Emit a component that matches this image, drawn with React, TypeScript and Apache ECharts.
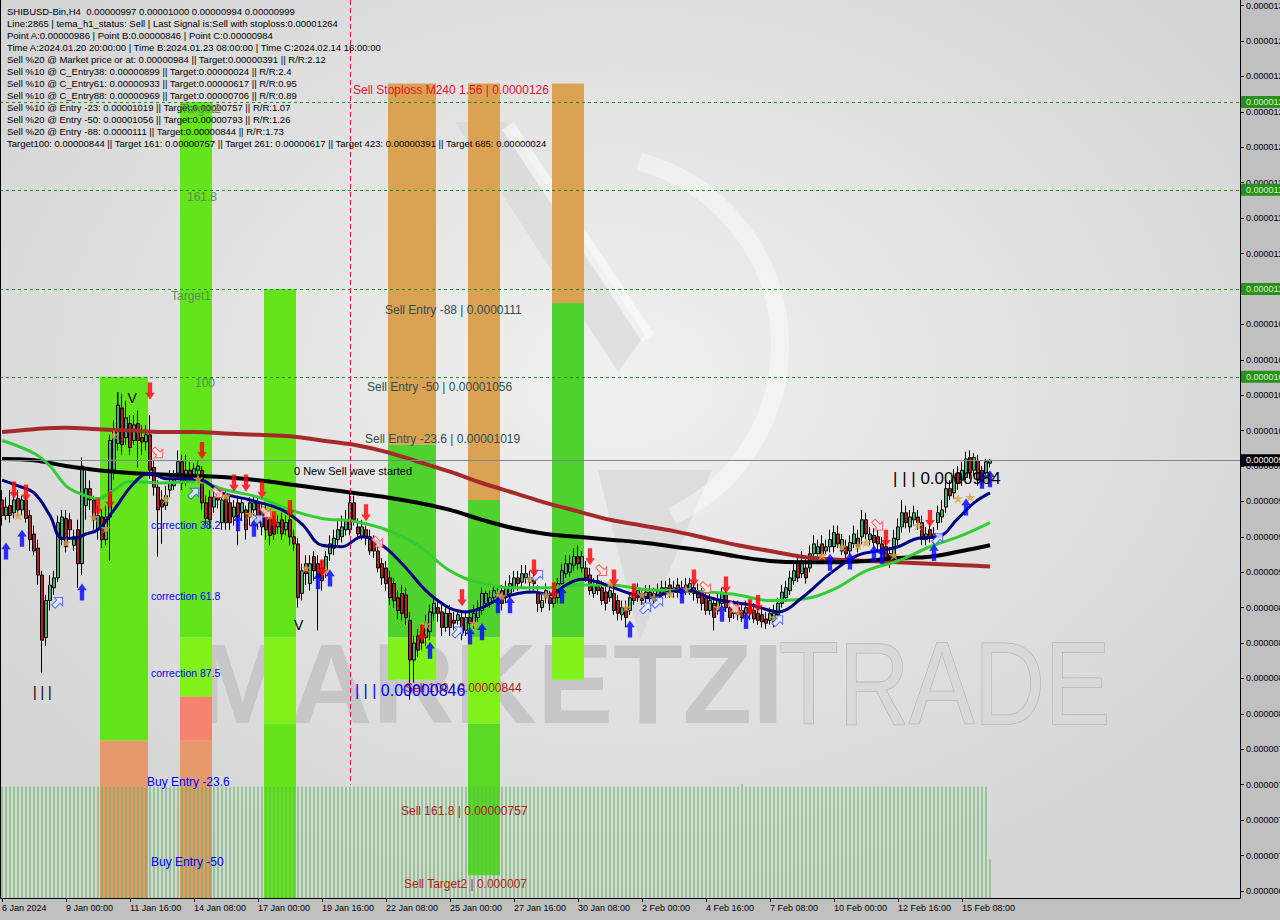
import React, { useEffect, useRef } from "react";
import * as echarts from "echarts";

// prices in units of 1e-8 (e.g. 999 => 0.00000999)
// candles: [open, close, low, high]
const CANDLES: number[][] = [
  [971,960,953,978],[960,966,957,973],[967,960,955,978],[962,971,958,976],[972,964,960,978],
  [964,971,960,974],[971,958,955,974],[960,943,935,964],[947,935,932,953],[937,918,911,943],
  [918,872,849,921],[874,900,868,904],[900,911,893,918],[909,916,904,921],[916,955,913,960],
  [943,959,939,964],[958,938,934,964],[957,950,943,962],[939,945,935,950],[950,926,909,957],
  [926,995,918,1001],[967,979,957,992],[979,971,964,985],[971,957,950,974],[950,960,943,967],
  [959,943,937,964],[943,959,939,967],[959,1013,928,1017],[992,1020,985,1027],[1011,1038,1006,1046],
  [1036,1010,1003,1046],[1015,1029,1010,1041],[1025,1008,1003,1031],[1013,1024,1010,1031],[1025,1013,994,1034],
  [1015,1012,1003,1024],[1012,1017,1006,1024],[1017,992,986,1031],[994,980,974,999],[980,964,931,985],
  [971,966,940,978],[967,974,964,981],[978,983,973,992],[981,986,978,992],[990,998,986,1006],
  [998,983,978,1003],[985,992,981,1003],[992,988,983,998],[986,993,983,997],[992,995,986,999],
  [992,969,964,995],[969,958,953,974],[973,957,951,978],[966,973,962,978],[976,971,965,981],
  [955,971,950,974],[973,955,950,978],[969,955,950,973],[959,966,953,971],[969,959,939,974],
  [962,969,957,973],[964,950,943,967],[959,969,953,973],[964,969,960,974],[969,955,950,974],
  [964,952,946,969],[962,950,943,967],[959,946,939,964],[957,947,943,960],[952,955,947,960],
  [957,947,943,962],[950,955,946,960],[957,945,939,962],[945,940,935,950],[940,902,895,944],
  [905,921,900,926],[926,919,911,932],[912,926,907,932],[931,921,914,935],[926,916,879,932],
  [923,914,907,928],[921,931,916,935],[933,940,928,946],[937,944,932,950],[943,950,939,957],
  [945,952,941,960],[950,957,946,964],[950,969,946,976],[969,957,953,974],[952,947,943,958],
  [945,952,943,957],[950,945,939,953],[945,935,932,950],[943,935,930,946],[935,923,920,939],
  [926,916,911,930],[923,912,907,928],[916,902,897,921],[912,900,895,916],[902,893,887,907],
  [905,891,886,911],[904,888,883,909],[886,858,830,892],[858,870,842,875],[875,865,860,880],
  [878,870,865,883],[874,884,868,890],[878,892,872,897],[891,898,886,904],[895,891,885,900],
  [892,881,875,897],[881,891,878,895],[891,881,875,897],[886,884,879,892],[886,890,883,894],
  [888,877,872,893],[879,888,875,893],[888,884,879,893],[884,891,880,897],[888,893,885,900],
  [893,905,890,909],[898,905,895,907],[898,902,895,907],[902,907,899,911],[905,900,897,909],
  [907,898,893,911],[902,909,898,914],[905,912,902,918],[909,916,906,921],[916,912,907,921],
  [913,919,909,925],[916,919,912,925],[913,916,907,921],[916,912,907,920],[905,898,892,911],
  [895,900,892,904],[907,902,898,912],[902,898,893,907],[898,902,895,907],[902,912,898,916],
  [912,921,909,926],[919,926,916,932],[920,926,917,932],[925,931,921,937],[931,926,922,939],
  [923,931,920,935],[923,916,913,928],[918,907,904,923],[905,911,902,916],[914,907,904,918],
  [909,900,897,914],[906,898,893,911],[902,907,899,911],[905,893,890,909],[900,891,886,904],
  [890,895,886,900],[895,888,881,900],[893,902,890,906],[900,905,897,909],[902,907,899,912],
  [905,900,897,909],[902,906,898,911],[906,902,899,911],[900,905,897,909],[902,907,899,912],
  [909,905,902,914],[905,909,902,914],[911,906,902,916],[906,909,902,914],[911,906,902,916],
  [905,909,902,914],[911,907,904,916],[907,912,904,916],[909,905,900,914],[907,902,898,912],
  [905,898,893,909],[902,893,890,907],[893,900,890,905],[898,888,879,902],[893,900,890,905],
  [898,905,895,909],[905,895,892,909],[895,888,885,900],[891,895,887,900],[895,890,886,900],
  [893,888,885,898],[891,895,887,900],[895,891,886,900],[893,887,884,898],[891,886,883,895],
  [890,885,881,895],[887,884,880,892],[886,891,883,895],[885,891,881,897],[890,898,886,902],
  [898,906,895,911],[902,909,899,914],[907,916,904,921],[914,921,911,928],[926,916,913,932],
  [919,928,916,935],[923,916,912,930],[923,933,920,939],[933,940,930,946],[933,938,930,943],
  [940,933,930,946],[935,938,932,943],[938,943,934,950],[938,948,934,953],[947,940,937,953],
  [935,943,932,947],[938,933,928,943],[935,941,932,946],[940,947,937,953],[944,938,934,950],
  [945,957,940,964],[957,947,943,962],[943,947,939,952],[946,941,937,951],[945,940,935,950],
  [940,933,930,945],[938,928,925,943],[933,926,923,938],[932,944,928,950],[943,952,939,958],
  [952,962,948,971],[962,955,951,967],[952,959,948,964],[957,962,953,967],[959,955,950,964],
  [955,943,939,960],[943,947,939,952],[950,945,941,955],[944,947,940,952],[955,962,950,967],
  [959,964,955,971],[966,979,962,985],[979,974,971,985],[976,987,972,993],[990,983,978,995],
  [985,992,981,998],[987,1000,985,1005],[1001,990,986,1006],[992,1001,988,1004],[999,985,981,1003],
  [992,985,981,995],[990,998,986,1000],[997,999,994,1000],
];

// moving averages: [barIndex, value]
const MA_RED: number[][] = [
  [0,1019],[8,1021],[16,1022],[24,1021],[32,1020],[40,1019],[48,1019],[56,1018],[64,1017],[72,1016],
  [80,1013],[88,1010],[96,1005],[104,998],[112,991],[120,983],[128,976],[136,969],[144,963],[152,957],
  [160,953],[168,949],[176,944],[184,939],[192,935],[200,931],[208,929],[216,928],[224,927],[232,926],
  [240,925],[247,924],
];
const MA_BLACK: number[][] = [
  [0,1000],[8,999],[16,995],[24,992],[32,990],[40,989],[48,988],[56,987],[64,985],[72,982],
  [80,979],[88,976],[96,973],[104,969],[112,964],[120,957],[128,951],[136,947],[144,945],[152,943],
  [160,941],[168,938],[176,935],[184,931],[192,928],[200,927],[208,927],[216,928],[224,930],[232,931],
  [240,935],[247,939],
];
const MA_GREEN: number[][] = [
  [0,1013],[8,1004],[12,995],[16,981],[20,975],[24,972],[28,978],[32,984],[40,983],[48,984],
  [56,978],[64,973],[72,964],[80,958],[88,956],[96,950],[104,939],[112,921],[120,912],[128,909],
  [136,909],[144,911],[152,911],[160,908],[168,907],[176,906],[184,904],[192,900],[200,901],[208,908],
  [216,921],[224,928],[232,938],[240,946],[247,955],
];
const MA_NAVY: number[][] = [
  [0,985],[4,981],[8,976],[12,960],[15,944],[18,944],[21,947],[24,950],[28,964],[33,983],
  [37,990],[41,986],[45,986],[50,985],[55,976],[62,971],[70,964],[75,954],[80,939],[85,938],
  [90,945],[95,939],[100,926],[108,902],[116,892],[120,895],[125,902],[133,906],[137,904],[141,911],
  [145,915],[149,913],[152,910],[157,905],[162,902],[167,906],[172,907],[177,902],[182,899],[187,897],
  [192,893],[194,892],[200,902],[207,919],[214,932],[219,935],[224,938],[229,944],[234,945],[239,958],
  [243,969],[247,976],
];

const RED_DOWN: number[][] = [[3,978],[6,976],[24,966],[27,971],[37,1048],[50,1006],[58,983],[61,983],[65,978],[68,957],[72,965],[80,923],[91,962],[105,877],[115,902],[133,923],[138,907],[147,931],[153,916],[158,906],[173,916],[181,911],[187,895],[189,898],[221,944],[232,958]];
const BLUE_UP: number[][] = [[1,935],[5,944],[20,906],[59,955],[63,951],[79,914],[82,916],[107,865],[117,875],[120,878],[124,897],[127,897],[140,904],[157,880],[170,904],[180,891],[186,886],[207,927],[212,928],[218,933],[220,932],[233,934],[241,966],[245,985],[247,986]];
const STARS: number[][] = [[4,960],[16,941],[23,959],[26,951],[28,1017],[41,972],[49,986],[56,974],[62,961],[67,960],[76,923],[81,921],[106,883],[118,884],[124,904],[125,903],[132,915],[136,904],[152,912],[156,895],[160,904],[163,902],[167,905],[171,908],[179,895],[184,892],[193,888],[205,932],[210,938],[214,939],[216,941],[223,932],[229,953],[239,972],[242,973],[246,986]];
const HOLLOW_RED: number[][] = [[39,1004],[54,976],[66,962],[94,941],[150,921],[176,909],[183,895],[219,953]];
const HOLLOW_BLUE: number[][] = [[14,899],[48,976],[64,957],[114,878],[134,918],[161,895],[164,899],[194,886],[234,944]];

// histogram runs: [count, value]
const HIST_RUNS: number[][] = [[185,12.4],[1,12.7],[61,12.4],[1,4.3]];

// coloured zones: [startBar, endBar, topPrice, bottomPrice, colourIndex]
const ZONE_COLORS = ["#63e41b", "#4fd22e", "#5ad925", "#80f21a", "#f5836f", "#e69a6b", "#dca254"];
const ZONES: number[][] = [
  [25,36,1058,801,0],[25,36,801,690,5],
  [45,52,1252,874,0],[45,52,874,832,3],[45,52,832,801,4],[45,52,801,690,5],
  [66,73,1120,874,0],[66,73,874,813,3],[66,73,813,690,0],
  [97,108,1265,1010,6],[97,108,1010,874,1],[97,108,874,844,3],
  [117,124,1265,971,6],[117,124,971,874,1],[117,124,874,813,3],[117,124,813,706,2],
  [138,145,1265,1110,6],[138,145,1110,874,1],[138,145,874,844,3],
];

const GREEN_LEVELS = [1252, 1190, 1120, 1058];
const BID = 999;
const TIME_A_BAR = 87;

const X_TICK_LABELS = ["6 Jan 2024","9 Jan 00:00","11 Jan 16:00","14 Jan 08:00","17 Jan 00:00","19 Jan 16:00","22 Jan 08:00","25 Jan 00:00","27 Jan 16:00","30 Jan 08:00","2 Feb 00:00","4 Feb 16:00","7 Feb 08:00","10 Feb 00:00","12 Feb 16:00","15 Feb 08:00"];
const Y_TICKS = [695,720,745,770,795,820,845,870,895,920,945,970,995,1020,1045,1070,1095,1120,1145,1170,1195,1220,1245,1270,1295,1320];
const SLOTS = 310;

const INFO_LINES = [
  "SHIBUSD-Bin,H4  0.00000997 0.00001000 0.00000994 0.00000999",
  "Line:2865 | tema_h1_status: Sell | Last Signal is:Sell with stoploss:0.00001264",
  "Point A:0.00000986 | Point B:0.00000846 | Point C:0.00000984",
  "Time A:2024.01.20 20:00:00 | Time B:2024.01.23 08:00:00 | Time C:2024.02.14 16:00:00",
  "Sell %20 @ Market price or at: 0.00000984 || Target:0.00000391 || R/R:2.12",
  "Sell %10 @ C_Entry38: 0.00000899 || Target:0.00000024 || R/R:2.4",
  "Sell %10 @ C_Entry61: 0.00000933 || Target:0.00000617 || R/R:0.95",
  "Sell %10 @ C_Entry88: 0.00000969 || Target:0.00000706 || R/R:0.89",
  "Sell %10 @ Entry -23: 0.00001019 || Target:0.00000757 || R/R:1.07",
  "Sell %20 @ Entry -50: 0.00001056 || Target:0.00000793 || R/R:1.26",
  "Sell %20 @ Entry -88: 0.0000111 || Target:0.00000844 || R/R:1.73",
  "Target100: 0.00000844 || Target 161: 0.00000757 || Target 261: 0.00000617 || Target 423: 0.00000391 || Target 685: 0.00000024",
];

// [text, x, y, colour, size]
const NOTES: (string | number)[][] = [
  ["Target2", 181, 109, "#5d8c52", 12],
  ["161.8", 187, 197, "#5d8c52", 12],
  ["Target1", 171, 296, "#5d8c52", 12],
  ["100", 195, 383, "#5d8c52", 12],
  ["correction 38.2", 151, 525, "#0000ff", 10.5],
  ["correction 61.8", 151, 596, "#0000ff", 10.5],
  ["correction 87.5", 151, 673, "#0000ff", 10.5],
  ["Buy Entry -23.6", 147, 782, "#0000ff", 12],
  ["Buy Entry -50", 151, 862, "#0000ff", 12],
  ["Sell Stoploss M240 1.56 | 0.0000126", 353, 90, "#e4122d", 12],
  ["Sell Entry -88 | 0.0000111", 385, 310, "#2f4f4f", 12],
  ["Sell Entry -50 | 0.00001056", 367, 387, "#2f4f4f", 12],
  ["Sell Entry -23.6 | 0.00001019", 365, 439, "#2f4f4f", 12],
  ["0 New Sell wave started", 294, 471, "#000000", 11],
  ["Sell 100 | 0.00000844", 405, 688, "#b22222", 12],
  ["Sell 161.8 | 0.00000757", 401, 811, "#b22222", 12],
  ["Sell Target2 | 0.000007", 404, 884, "#b22222", 12],
  ["| | | 0.00000846", 355, 690, "#0000ff", 16],
  ["| | | 0.0000984", 893, 478, "#000000", 17],
  ["| | |", 33, 692, "#000000", 14],
  ["|  V", 116, 398, "#000000", 14],
  ["V", 294, 625, "#000000", 14],
];

const FONT = '"Liberation Sans", Arial, sans-serif';
const DOWN_ARROW = "path://M3,0 L8,0 L8,9 L11,9 L5.5,15 L0,9 L3,9 Z";
const UP_ARROW = "path://M3,15 L8,15 L8,6 L11,6 L5.5,0 L0,6 L3,6 Z";
const STAR = "path://M5,0 L6.2,3.6 L10,3.6 L6.9,5.8 L8.1,9.5 L5,7.2 L1.9,9.5 L3.1,5.8 L0,3.6 L3.8,3.6 Z";
const RIGHT_ARROW = "path://M0,3 L6,3 L6,0 L11,5 L6,10 L6,7 L0,7 Z";

function buildOption(tagGraphics: any[]) {
  const categories = Array.from({ length: SLOTS }, (_, i) => String(i));
  const hist: number[][] = [];
  let idx = 0;
  HIST_RUNS.forEach(([n, v]) => {
    for (let k = 0; k < n; k++) hist.push([idx++, v]);
  });
  const tickShown = (i: number) => i % 16 === 0 && i / 16 < X_TICK_LABELS.length;

  const txt = (t: string, x: number, y: number, fill: string, size: number, extra: any = {}) => ({
    type: "text", x, y, z: 100, silent: true,
    style: { text: t, fill, fontSize: size, fontFamily: FONT, align: "left", verticalAlign: "middle", textAlign: "left", textVerticalAlign: "middle", ...extra },
  });

  const graphics: any[] = [
    {
      type: "rect", z: -100, silent: true, shape: { x: 0, y: 0, width: 1240, height: 898 },
      style: { fill: new echarts.graphic.RadialGradient(0.5, 0.42, 0.62, [{ offset: 0, color: "#f1f1f1" }, { offset: 1, color: "#d5d5d5" }]) },
    },
    { type: "polygon", z: -60, silent: true, shape: { points: [[455, 122], [505, 122], [645, 335], [618, 372]] }, style: { fill: "#d2d2d2", opacity: 0.5 } },
    { type: "polyline", z: -59, silent: true, shape: { points: [[508, 126], [648, 338]] }, style: { stroke: "#ffffff", lineWidth: 14, opacity: 0.55 } },
    { type: "arc", z: -59, silent: true, shape: { cx: 590, cy: 345, r: 190, startAngle: -Math.PI / 2.4, endAngle: Math.PI / 2.8 }, style: { stroke: "#ffffff", lineWidth: 18, fill: "none", opacity: 0.42 } },
    { type: "polygon", z: -60, silent: true, shape: { points: [[598, 470], [712, 470], [640, 640]] }, style: { fill: "#cfcfcf", opacity: 0.5 } },
    { type: "text", z: -50, silent: true, x: 195, y: 683, style: { text: "MARKETZI", fontSize: 114, fontWeight: "bold", fontFamily: FONT, fill: "#c6c6c6", verticalAlign: "middle", textVerticalAlign: "middle" } },
    { type: "text", z: -50, silent: true, x: 779, y: 683, scaleX: 0.835, style: { text: "TRADE", fontSize: 117, fontFamily: FONT, fill: "#d9d9d9", stroke: "#b3b3b3", lineWidth: 1.5, verticalAlign: "middle", textVerticalAlign: "middle" } },
    { type: "line", z: 50, silent: true, shape: { x1: 0.5, y1: 0, x2: 0.5, y2: 898 }, style: { stroke: "#000", lineWidth: 1 } },
    ...INFO_LINES.map((l, k) => txt(l, 7, 11 + 12 * k, "#000000", 9.5)),
    ...NOTES.map((n) => txt(n[0] as string, n[1] as number, n[2] as number, n[3] as string, n[4] as number)),
    ...tagGraphics,
  ];

  const scatter = (data: number[][], symbol: string, size: any, style: any, rotate = 0) => ({
    type: "scatter", data, symbol, symbolSize: size, symbolRotate: rotate, symbolKeepAspect: true,
    itemStyle: style, z: 6, silent: true,
  });

  return {
    animation: false,
    grid: { left: 0, top: 0, width: 1240, height: 898, containLabel: false, outerBoundsMode: "none" },
    xAxis: {
      type: "category", data: categories, boundaryGap: true,
      axisLine: { show: true, lineStyle: { color: "#000", width: 1 } },
      axisTick: { show: true, alignWithLabel: true, interval: (i: number) => tickShown(i), length: 4, lineStyle: { color: "#000" } },
      axisLabel: {
        interval: (i: number) => tickShown(i),
        formatter: (_v: string, i: number) => X_TICK_LABELS[i / 16] ?? "",
        align: "left", margin: 5, fontSize: 9, fontFamily: FONT, color: "#000",
      },
      splitLine: { show: false },
    },
    yAxis: [
      {
        type: "value", position: "right", min: 690, max: 1324,
        axisLine: { show: true, lineStyle: { color: "#000" } },
        axisTick: { show: true, customValues: Y_TICKS, length: 4, lineStyle: { color: "#000" } },
        axisLabel: { customValues: Y_TICKS, formatter: (v: number) => (v / 1e8).toFixed(8), margin: 6, fontSize: 9, fontFamily: FONT, color: "#000" },
        splitLine: { show: false },
      },
      { type: "value", min: 0, max: 100, show: false },
    ],
    graphic: graphics,
    series: [
      {
        type: "custom", z: 1, silent: true,
        data: ZONES,
        encode: { x: [0, 1], y: [2, 3] },
        renderItem: (_p: any, api: any) => {
          const a = api.coord([api.value(0), api.value(2)]);
          const b = api.coord([api.value(1), api.value(3)]);
          const w = api.size([1, 0])[0];
          return {
            type: "rect",
            shape: { x: a[0] - w / 2, y: a[1], width: b[0] - a[0] + w, height: b[1] - a[1] },
            style: { fill: ZONE_COLORS[api.value(4)] },
          };
        },
      },
      {
        type: "bar", yAxisIndex: 1, data: hist, barWidth: 1, z: 2, silent: true,
        itemStyle: { color: "#55b455" },
      },
      {
        type: "candlestick", data: CANDLES, barWidth: 3, z: 3, silent: true,
        itemStyle: { color: "#3cb371", color0: "#b22222", borderColor: "#000", borderColor0: "#000", borderWidth: 1 },
        markLine: {
          silent: true, symbol: ["none", "none"], label: { show: false }, animation: false,
          data: [
            ...GREEN_LEVELS.map((v) => ({ yAxis: v, lineStyle: { color: "#1f8f1f", type: [3, 3], width: 1 } })),
            { yAxis: BID, lineStyle: { color: "#778899", type: "solid", width: 1 } },
            [
              { coord: [TIME_A_BAR, 1324], lineStyle: { color: "#dc143c", type: [5, 3], width: 1 } },
              { coord: [TIME_A_BAR, 770] },
            ],
          ],
        },
      },
      { type: "line", data: MA_RED, smooth: 0.4, showSymbol: false, z: 4, silent: true, lineStyle: { color: "#a52a2a", width: 4 } },
      { type: "line", data: MA_BLACK, smooth: 0.4, showSymbol: false, z: 4, silent: true, lineStyle: { color: "#000000", width: 4 } },
      { type: "line", data: MA_GREEN, smooth: 0.4, showSymbol: false, z: 4, silent: true, lineStyle: { color: "#32cd32", width: 3 } },
      { type: "line", data: MA_NAVY, smooth: 0.4, showSymbol: false, z: 4, silent: true, lineStyle: { color: "#000080", width: 3 } },
      scatter(STARS, STAR, 11, { color: "#d4a84c" }),
      scatter(HOLLOW_RED, RIGHT_ARROW, 13, { color: "#fbeaea", borderColor: "#ff4040", borderWidth: 1 }, -45),
      scatter(HOLLOW_BLUE, RIGHT_ARROW, 13, { color: "#eaeefb", borderColor: "#3050ff", borderWidth: 1 }, 45),
      scatter(RED_DOWN, DOWN_ARROW, [13, 17], { color: "#ff0000" }),
      scatter(BLUE_UP, UP_ARROW, [13, 17], { color: "#0000ff" }),
    ],
  };
}

export default function App() {
  const ref = useRef<HTMLDivElement>(null);
  useEffect(() => {
    const chart = echarts.init(ref.current!, null, { renderer: "svg" });
    chart.setOption(buildOption([]) as any);
    const tags: any[] = [];
    const addTag = (v: number, bg: string, fg: string) => {
      const y = chart.convertToPixel({ yAxisIndex: 0 } as any, v) as number;
      tags.push({ type: "rect", z: 110, silent: true, shape: { x: 1241, y: y - 6, width: 39, height: 12 }, style: { fill: bg } });
      tags.push({
        type: "text", z: 111, silent: true, x: 1246, y,
        style: { text: (v / 1e8).toFixed(8), fill: fg, fontSize: 9, fontFamily: FONT, verticalAlign: "middle", textVerticalAlign: "middle" },
      });
    };
    GREEN_LEVELS.forEach((v) => addTag(v, "#2a8f1c", "#d6f2cc"));
    addTag(BID, "#000000", "#ffffff");
    chart.setOption(buildOption(tags) as any, true);
    return () => chart.dispose();
  }, []);
  return (
    <div
      ref={ref}
      style={{ position: "fixed", left: 0, top: 0, width: 1280, height: 920, background: "#c0c0c0" }}
    />
  );
}
